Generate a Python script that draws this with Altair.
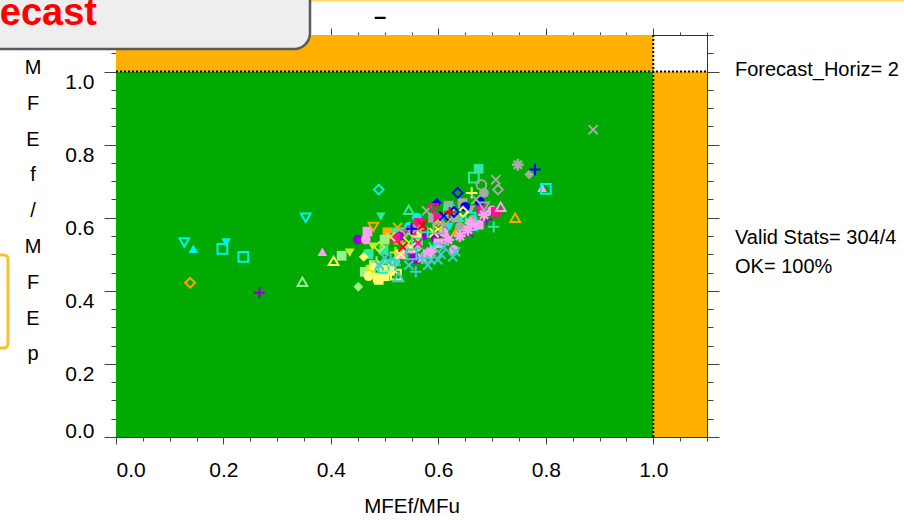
import altair as alt
import pandas as pd

FONT = "Liberation Sans"

# ---------------- axis tick values ----------------
x_major = [0.0, 0.2, 0.4, 0.6, 0.8, 1.0]
x_minor = [0.0, 0.05, 0.1, 0.15, 0.2, 0.25, 0.3, 0.35, 0.4, 0.45, 0.5, 0.55,
           0.6, 0.65, 0.7, 0.75, 0.8, 0.85, 0.9, 0.95, 1.0, 1.05, 1.1]
y_major = [0.0, 0.2, 0.4, 0.6, 0.8, 1.0]
y_minor = x_minor

# ---------------- background regions ----------------
region_x0 = [0.0, 0.0, 1.0]
region_x1 = [1.0, 1.0, 1.1]
region_y0 = [0.0, 1.0, 0.0]
region_y1 = [1.0, 1.1, 1.0]
region_color = ["#00AA00", "#FFB000", "#FFB000"]

# ---------------- scatter series (by colour) ----------------
# marker codes: o s t v d = open circle/square/tri-up/tri-down/diamond,
# O S T V D = filled, + x * = stroke-only
cyan_x = [0.127, 0.144, 0.198, 0.205, 0.237, 0.353, 0.489, 0.800, 0.545, 0.498, 0.620, 0.660, 0.666, 0.590, 0.560, 0.520]
cyan_y = [0.532, 0.515, 0.515, 0.532, 0.493, 0.600, 0.677, 0.679, 0.575, 0.463, 0.575, 0.600, 0.575, 0.520, 0.600, 0.560]
cyan_m = ["v", "T", "s", "V", "s", "v", "d", "s", "O", "s", "V", "s", "T", "x", "O", "S"]

orange_x = [0.138, 0.743, 0.479, 0.524, 0.567, 0.526, 0.632, 0.505, 0.600]
orange_y = [0.422, 0.600, 0.575, 0.573, 0.562, 0.540, 0.562, 0.560, 0.585]
orange_m = ["d", "t", "v", "x", "V", "S", "T", "S", "V"]

purple_x = [0.267, 0.450, 0.610, 0.573, 0.556, 0.657, 0.690, 0.595, 0.530]
purple_y = [0.395, 0.540, 0.559, 0.553, 0.488, 0.559, 0.595, 0.545, 0.550]
purple_m = ["+", "O", "O", "O", "S", "x", "+", "O", "O"]

lgreen_x = [0.347, 0.420, 0.451, 0.470, 0.485, 0.505, 0.463, 0.500, 0.540]
lgreen_y = [0.425, 0.496, 0.411, 0.501, 0.479, 0.468, 0.452, 0.540, 0.520]
lgreen_m = ["t", "S", "D", "O", "+", "s", "S", "S", "O"]

ygreen_x = [0.435, 0.478, 0.511, 0.545, 0.474, 0.600, 0.520, 0.490, 0.560]
ygreen_y = [0.504, 0.521, 0.548, 0.545, 0.458, 0.580, 0.505, 0.520, 0.530]
ygreen_m = ["V", "V", "x", "d", "S", "d", "+", "d", "o"]

sea_x = [0.493, 0.545, 0.703, 0.675, 0.666, 0.498, 0.640, 0.560, 0.520, 0.580, 0.470, 0.620]
sea_y = [0.603, 0.622, 0.575, 0.734, 0.710, 0.512, 0.600, 0.530, 0.480, 0.560, 0.500, 0.620]
sea_m = ["V", "t", "+", "S", "s", "S", "T", "s", "O", "+", "S", "s"]

yellow_x = [0.405, 0.461, 0.487, 0.496, 0.489, 0.521, 0.549, 0.662, 0.646, 0.530, 0.500,
            0.470, 0.592, 0.510, 0.480, 0.515, 0.560]
yellow_y = [0.482, 0.493, 0.436, 0.458, 0.430, 0.444, 0.518, 0.668, 0.616, 0.500, 0.440,
            0.440, 0.559, 0.455, 0.470, 0.460, 0.550]
yellow_m = ["t", "D", "S", "S", "S", "s", "x", "+", "d", "x", "S", "O", "x", "S", "S", "x", "S"]

pink_x = [0.384, 0.468, 0.465, 0.793, 0.716, 0.685, 0.675, 0.655, 0.618, 0.629, 0.586,
          0.600, 0.560, 0.640, 0.570, 0.530, 0.660, 0.700, 0.580, 0.550, 0.610]
pink_y = [0.507, 0.562, 0.540, 0.682, 0.630, 0.608, 0.581, 0.567, 0.540, 0.512, 0.507,
          0.530, 0.520, 0.550, 0.490, 0.500, 0.585, 0.620, 0.500, 0.515, 0.560]
pink_m = ["T", "S", "O", "T", "t", "*", "S", "*", "*", "O", "*",
          "S", "O", "*", "*", "S", "*", "O", "S", "O", "O"]

grey_x = [0.888, 0.748, 0.769, 0.707, 0.711, 0.685, 0.685, 0.619, 0.660, 0.664, 0.614,
          0.578, 0.630, 0.560, 0.645, 0.600, 0.540, 0.590, 0.670, 0.640, 0.680]
grey_y = [0.841, 0.745, 0.718, 0.704, 0.677, 0.668, 0.630, 0.633, 0.622, 0.595, 0.589,
          0.619, 0.600, 0.570, 0.640, 0.570, 0.560, 0.600, 0.650, 0.575, 0.690]
grey_m = ["x", "*", "D", "x", "d", "O", "v", "S", "V", "O", "v", "x", "O", "x", "S", "s", "v",
          "S", "x", "O", "o"]

blue_x = [0.780, 0.636, 0.677, 0.597, 0.629, 0.567, 0.610, 0.650, 0.550]
blue_y = [0.732, 0.668, 0.644, 0.641, 0.616, 0.584, 0.605, 0.630, 0.570]
blue_m = ["+", "d", "O", "D", "d", "D", "x", "O", "+"]

mag_x = [0.707, 0.590, 0.563, 0.550, 0.562, 0.680, 0.600, 0.520]
mag_y = [0.616, 0.625, 0.586, 0.565, 0.531, 0.620, 0.600, 0.545]
mag_m = ["S", "v", "S", "S", "x", "S", "S", "S"]

red_x = [0.621, 0.570, 0.534]
red_y = [0.614, 0.580, 0.520]
red_m = ["+", "x", "x"]

teal_x = [0.599, 0.627, 0.632, 0.558, 0.511, 0.526, 0.586, 0.580, 0.520, 0.550, 0.610, 0.490,
          0.500, 0.570, 0.605, 0.545]
teal_y = [0.485, 0.493, 0.507, 0.452, 0.485, 0.438, 0.485, 0.470, 0.470, 0.500, 0.520, 0.470,
          0.490, 0.490, 0.500, 0.470]
teal_m = ["x", "x", "x", "+", "+", "t", "x", "x", "+", "s", "x", "x", "x", "+", "x", "x"]

series = [
    ("#00F2F2", cyan_x, cyan_y, cyan_m),
    ("#FFA500", orange_x, orange_y, orange_m),
    ("#9400D3", purple_x, purple_y, purple_m),
    ("#98F090", lgreen_x, lgreen_y, lgreen_m),
    ("#C4F030", ygreen_x, ygreen_y, ygreen_m),
    ("#30E8A0", sea_x, sea_y, sea_m),
    ("#FFFF70", yellow_x, yellow_y, yellow_m),
    ("#FFA0F0", pink_x, pink_y, pink_m),
    ("#A8A8A8", grey_x, grey_y, grey_m),
    ("#0000F0", blue_x, blue_y, blue_m),
    ("#FF1090", mag_x, mag_y, mag_m),
    ("#FF0000", red_x, red_y, red_m),
    ("#48C8D0", teal_x, teal_y, teal_m),
]

SHAPES = {
    "o": "circle", "O": "circle", "s": "square", "S": "square",
    "t": "triangle-up", "T": "triangle-up", "v": "triangle-down", "V": "triangle-down",
    "d": "diamond", "D": "diamond",
    "+": "M-1,0L1,0M0,-1L0,1",
    "x": "M-0.8,-0.8L0.8,0.8M-0.8,0.8L0.8,-0.8",
    "*": "M-1,0L1,0M0,-1L0,1M-0.7,-0.7L0.7,0.7M-0.7,0.7L0.7,-0.7",
}

rows = []
for col, xs, ys, ms in series:
    for xv, yv, m in zip(xs, ys, ms):
        filled = m in "OSTVD"
        if m in "+x":
            size, sw = 130, 2.0
        elif m == "*":
            size, sw = 140, 2.5
        else:
            size, sw = 95, 2.0
        rows.append({"x": xv, "y": yv, "shape": SHAPES[m], "color": col,
                     "filled": filled, "size": size, "sw": sw})
pts = pd.DataFrame(rows)

XS = alt.Scale(domain=[0, 1.1], nice=False, zero=False)
YS = alt.Scale(domain=[0, 1.1], nice=False, zero=False)
TICK = "#404040"

ax_bottom_major = alt.Axis(orient="bottom", values=x_major, format=".1f", tickSize=7,
                           tickColor=TICK, domainColor="#333333", labelFontSize=21,
                           labelFont=FONT, labelColor="black", labelPadding=15,
                           title="MFEf/MFu", titleFont=FONT, titleFontSize=20.5,
                           titleFontWeight="normal", titleColor="black",
                           titleBaseline="alphabetic", titleY=75, grid=False, zindex=1)
ax_bottom_minor = alt.Axis(orient="bottom", values=x_minor, tickSize=4, tickColor=TICK,
                           labels=False, domain=False, title=None, grid=False, zindex=1)
ax_top_major = alt.Axis(orient="top", values=x_major, tickSize=7, tickColor=TICK,
                        domainColor="#333333", labels=False, title=None, grid=False, zindex=0)
ax_top_minor = alt.Axis(orient="top", values=x_minor, tickSize=3, tickColor=TICK,
                        labels=False, domain=False, title=None, grid=False, zindex=0)

ay_left_major = alt.Axis(orient="left", values=y_major, format=".1f", tickSize=12,
                         tickColor=TICK, domainColor="#333333", labelFontSize=21,
                         labelFont=FONT, labelColor="black", labelPadding=10,
                         labelBaseline={"condition": {"test": "datum.value < 0.01",
                                                      "value": "alphabetic"},
                                        "value": "top"},
                         title=None, grid=False, zindex=0)
ay_left_minor = alt.Axis(orient="left", values=y_minor, tickSize=5, tickColor=TICK,
                         labels=False, domain=False, title=None, grid=False, zindex=0)
ay_right_major = alt.Axis(orient="right", values=y_major, tickSize=12, tickColor=TICK,
                          domainColor="#333333", labels=False, title=None, grid=False, zindex=1)
ay_right_minor = alt.Axis(orient="right", values=y_minor, tickSize=6, tickColor=TICK,
                          labels=False, domain=False, title=None, grid=False, zindex=1)

regions = pd.DataFrame({"x0": region_x0, "x1": region_x1, "y0": region_y0,
                        "y1": region_y1, "c": region_color})
rect_layer = alt.Chart(regions).mark_rect(strokeWidth=0).encode(
    x=alt.X("x0:Q", scale=XS, axis=ax_bottom_major),
    x2="x1:Q",
    y=alt.Y("y0:Q", scale=YS, axis=ay_left_major),
    y2="y1:Q",
    color=alt.Color("c:N", scale=None),
)

vline = pd.DataFrame({"x": [1.0], "y0": [0.0], "y1": [1.1]})
vrule = alt.Chart(vline).mark_rule(color="black", strokeWidth=2, strokeDash=[2, 2]).encode(
    x=alt.X("x:Q", scale=XS, axis=ax_top_minor),
    y=alt.Y("y0:Q", scale=YS, axis=ay_right_minor),
    y2="y1:Q",
)
hline = pd.DataFrame({"y": [1.0], "x0": [0.0], "x1": [1.1]})
hrule = alt.Chart(hline).mark_rule(color="black", strokeWidth=2, strokeDash=[2, 2]).encode(
    y=alt.Y("y:Q", scale=YS, axis=None),
    x=alt.X("x0:Q", scale=XS, axis=None),
    x2="x1:Q",
)

filled_layer = alt.Chart(pts).transform_filter("datum.filled").mark_point(
    filled=True, opacity=1).encode(
    x=alt.X("x:Q", scale=XS, axis=ax_bottom_minor),
    y=alt.Y("y:Q", scale=YS, axis=ay_left_minor),
    shape=alt.Shape("shape:N", scale=None),
    color=alt.Color("color:N", scale=None),
    size=alt.Size("size:Q", scale=None),
)
open_layer = alt.Chart(pts).transform_filter("!datum.filled").mark_point(
    filled=False, opacity=1).encode(
    x=alt.X("x:Q", scale=XS, axis=ax_top_major),
    y=alt.Y("y:Q", scale=YS, axis=ay_right_major),
    shape=alt.Shape("shape:N", scale=None),
    color=alt.Color("color:N", scale=None),
    size=alt.Size("size:Q", scale=None),
    strokeWidth=alt.StrokeWidth("sw:Q", scale=None),
)

one = pd.DataFrame({"a": [0]})

top_line = alt.Chart(one).mark_rule(color="#FFD966", strokeWidth=2).encode(
    x=alt.value(-116), x2=alt.value(788), y=alt.value(-34.5))

title_box = alt.Chart(one).mark_rect(fill="#EEEEEE", stroke="#5A5A5A", strokeWidth=2.5,
                                     cornerRadiusBottomRight=16).encode(
    x=alt.value(-140), x2=alt.value(194), y=alt.value(-60), y2=alt.value(14))

title_text = alt.Chart(pd.DataFrame({"t": ["Forecast"]})).mark_text(
    font=FONT, fontSize=38, fontWeight="bold", color="#FF0000", align="right",
    baseline="alphabetic").encode(text="t:N", x=alt.value(-19), y=alt.value(-10))

dash_text = alt.Chart(pd.DataFrame({"t": ["\u2013"]})).mark_text(
    font=FONT, fontSize=22, fontWeight="bold", color="black", align="center",
    baseline="middle").encode(text="t:N", x=alt.value(264), y=alt.value(-18))

ytitle = alt.Chart(pd.DataFrame({"t": ["M\nF\nE\nf\n/\nM\nF\nE\np"]})).mark_text(
    font=FONT, fontSize=20, color="black", align="center", baseline="middle",
    lineBreak="\n", lineHeight=35.8).encode(text="t:N", x=alt.value(-83), y=alt.value(33))

side_box = alt.Chart(one).mark_rect(fill="transparent", stroke="#F2C230", strokeWidth=3,
                                    cornerRadius=4).encode(
    x=alt.value(-160), x2=alt.value(-108), y=alt.value(220), y2=alt.value(313))

right_1 = alt.Chart(pd.DataFrame({"t": ["Forecast_Horiz= 2"]})).mark_text(
    font=FONT, fontSize=20, color="black", align="left", baseline="middle").encode(
    text="t:N", x=alt.value(619), y=alt.value(35))
right_2 = alt.Chart(pd.DataFrame({"t": ["Valid Stats= 304/4"]})).mark_text(
    font=FONT, fontSize=20, color="black", align="left", baseline="middle").encode(
    text="t:N", x=alt.value(619), y=alt.value(203))
right_3 = alt.Chart(pd.DataFrame({"t": ["OK= 100%"]})).mark_text(
    font=FONT, fontSize=20, color="black", align="left", baseline="middle").encode(
    text="t:N", x=alt.value(619), y=alt.value(232))

chart = alt.layer(
    rect_layer, vrule, hrule, filled_layer, open_layer,
    top_line, title_box, title_text, dash_text, ytitle, side_box,
    right_1, right_2, right_3,
).resolve_axis(x="independent", y="independent").properties(
    width=591, height=402,
    padding={"left": 116, "top": 35, "right": 197, "bottom": 83},
    autosize=alt.AutoSizeParams(type="none"),
    background="white",
).configure_view(strokeWidth=0)

chart.save("out.html", embed_options={"renderer": "svg", "actions": False})
